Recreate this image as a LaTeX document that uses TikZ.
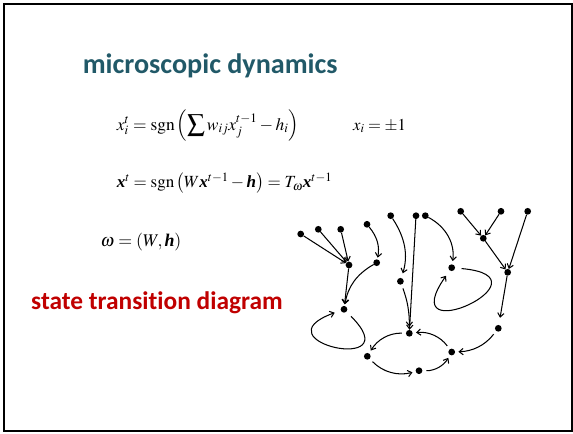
\documentclass[tikz,border=0pt]{standalone}
\usepackage{amsmath}
\usepackage{mathptmx}
\usepackage{fontspec}
\setmainfont{Liberation Serif}
\newfontfamily\calibri[Ligatures=NoCommon]{Carlito}
\usetikzlibrary{arrows.meta}
\definecolor{sdteal}{HTML}{215968}
\definecolor{sdred}{HTML}{C00000}
\newcommand{\bv}[1]{\text{\bfseries\itshape #1}}

\begin{document}
\begin{tikzpicture}[x=0.04433cm, y=0.04433cm,
  state/.style={circle, fill=black, inner sep=0pt, minimum size=8.5pt},
  flow/.style={-{Straight Barb[length=5pt,width=8pt]}, line width=1.3pt},
  gap/.style={shorten <=5pt, shorten >=4pt},
  txt/.style={anchor=base west, inner sep=0pt},
  eq/.style={txt, font=\fontsize{21}{25}\selectfont}]
  \useasboundingbox (0,0) rectangle (573,-433);
  \draw[line width=2.5pt] (3.8,-3.8) rectangle (572.2,-430.9);

  % text
  \node[txt, text=sdteal, font=\calibri\bfseries\fontsize{35.5}{42}\selectfont] (title) at (82.7,-73.3) {microscopic dynamics};
  \node[eq, font=\fontsize{22}{26}\selectfont] (eqa) at (116.7,-130) {$x_i^t = \mathrm{sgn}\left(\displaystyle\sum w_{ij}x_j^{t-1} - h_i\right)$};
  \node[eq] (eqb) at (353,-130) {$x_i = \pm 1$};
  \node[eq, font=\fontsize{21.5}{26}\selectfont] (eqc) at (116.7,-187.5) {$\bv{x}^t = \mathrm{sgn}\left(W\bv{x}^{t-1} - \bv{h}\right) = T_\omega \bv{x}^{t-1}$};
  \node[eq, font=\fontsize{22.5}{27}\selectfont] (eqd) at (100.5,-246.5) {$\omega = \left(W, \bv{h}\right)$};
  \node[txt, text=sdred, font=\calibri\bfseries\fontsize{32}{38}\selectfont] (std) at (31,-309.3) {state transition diagram};

  % states
  \node[state] (u1) at (300.7,-234) {};
  \node[state] (u2) at (318.3,-229.3) {};
  \node[state] (u3) at (340.7,-229.3) {};
  \node[state] (hub) at (349,-265) {};
  \node[state] (v1) at (367,-224.3) {};
  \node[state] (v2) at (376.7,-262.7) {};
  \node[state] (fix) at (344,-309.3) {};
  \node[state] (w1) at (390.7,-215.7) {};
  \node[state] (w2) at (400.4,-281.3) {};
  \node[state] (z1) at (416,-215.7) {};
  \node[state] (z2) at (425.3,-215.7) {};
  \node[state] (cyt) at (409.3,-333.3) {};
  \node[state] (cyl) at (367.3,-356.3) {};
  \node[state] (cyb) at (419,-370.7) {};
  \node[state] (cyr) at (451.7,-352) {};
  \node[state] (fix2) at (451.7,-267.7) {};
  \node[state] (y1) at (460.7,-211.3) {};
  \node[state] (y2) at (501,-211.3) {};
  \node[state] (y3) at (527.7,-211.3) {};
  \node[state] (yhub) at (483.3,-238.3) {};
  \node[state] (y4) at (507.7,-272.3) {};
  \node[state] (y5) at (498.3,-328.3) {};

  % transitions
  \draw[flow] (u1) -- (hub);
  \draw[flow] (u2) -- (hub);
  \draw[flow] (u3) -- (hub);
  \draw[flow, shorten >=2pt] (v1) to[bend left=25] (v2);
  \draw[flow, shorten >=2pt] (hub) -- (fix);
  \draw[flow, shorten >=2pt] (v2) to[bend right=25] (fix);
  \draw[flow, shorten <=8pt, shorten >=8pt] (fix) to[out=-45, in=200, min distance=4cm] (fix);
  \draw[flow, shorten >=6pt] (w1) to[bend left=25] (w2);
  \draw[flow, gap] (w2) to[bend left=10] (cyt);
  \draw[flow] (z1) -- (cyt);
  \draw[flow, shorten >=4pt] (z2) to[bend left=35] (fix2);
  \draw[flow, shorten <=8pt, shorten >=8pt] (fix2) to[out=-5, in=235, min distance=4.5cm] (fix2);
  \draw[flow] (y1) -- (yhub);
  \draw[flow] (y2) -- (yhub);
  \draw[flow] (yhub) -- (y4);
  \draw[flow] (y3) -- (y4);
  \draw[flow, shorten >=9pt] (y4) -- (y5);
  \draw[flow, gap] (y5) to[bend left=25] (cyr);
  \draw[flow, gap] (cyt) to[bend right=30] (cyl);
  \draw[flow, gap] (cyl) to[bend right=30] (cyb);
  \draw[flow, gap] (cyb) to[bend right=30] (cyr);
  \draw[flow, gap] (cyr) to[bend right=30] (cyt);
\end{tikzpicture}
\end{document}
